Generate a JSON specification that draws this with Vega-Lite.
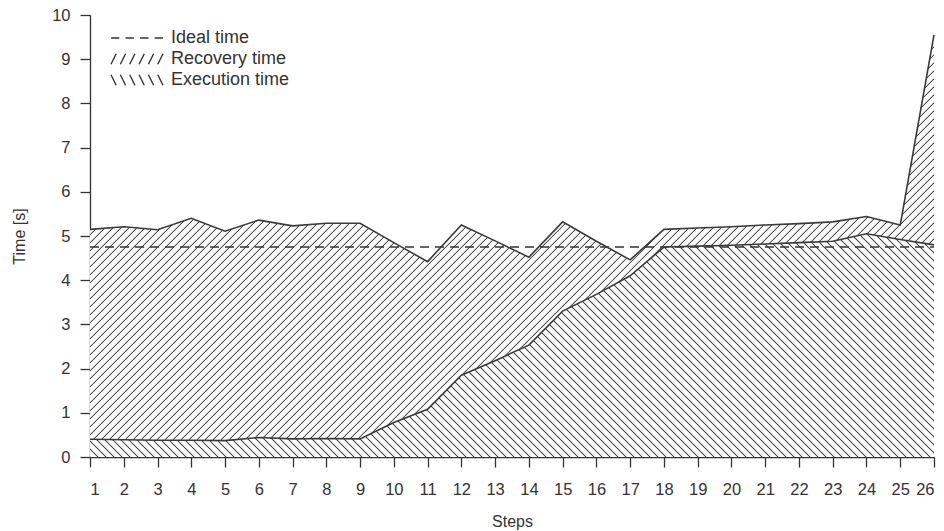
{
"$schema":"https://vega.github.io/schema/vega-lite/v6.json",
"width":844,"height":442,
"autosize":{"type":"none"},
"padding":{"left":90,"top":15,"right":10,"bottom":74},
"background":"white",
"config":{"view":{"stroke":null},"font":"Liberation Sans",
"axis":{"domainColor":"#333","tickColor":"#333","labelColor":"#333","titleColor":"#333","labelFontSize":16.5,"titleFontSize":16,"titleFontWeight":"normal","grid":false,"tickSize":10,"domainWidth":1.3,"tickWidth":1.3,"labelFont":"Liberation Sans","titleFont":"Liberation Sans"},
"axisX":{"labelPadding":14,"titlePadding":16},
"axisY":{"labelPadding":10,"titlePadding":24}},
"data":{"values":[
{"step":1,"exec":0.40,"total":5.15,"ideal":4.75},
{"step":2,"exec":0.39,"total":5.21,"ideal":4.75},
{"step":3,"exec":0.38,"total":5.14,"ideal":4.75},
{"step":4,"exec":0.38,"total":5.40,"ideal":4.75},
{"step":5,"exec":0.37,"total":5.11,"ideal":4.75},
{"step":6,"exec":0.44,"total":5.36,"ideal":4.75},
{"step":7,"exec":0.41,"total":5.23,"ideal":4.75},
{"step":8,"exec":0.42,"total":5.29,"ideal":4.75},
{"step":9,"exec":0.41,"total":5.29,"ideal":4.75},
{"step":10,"exec":0.78,"total":4.85,"ideal":4.75},
{"step":11,"exec":1.08,"total":4.42,"ideal":4.75},
{"step":12,"exec":1.85,"total":5.25,"ideal":4.75},
{"step":13,"exec":2.18,"total":4.89,"ideal":4.75},
{"step":14,"exec":2.53,"total":4.52,"ideal":4.75},
{"step":15,"exec":3.30,"total":5.32,"ideal":4.75},
{"step":16,"exec":3.68,"total":4.88,"ideal":4.75},
{"step":17,"exec":4.10,"total":4.46,"ideal":4.75},
{"step":18,"exec":4.75,"total":5.15,"ideal":4.75},
{"step":19,"exec":4.77,"total":5.18,"ideal":4.75},
{"step":20,"exec":4.79,"total":5.21,"ideal":4.75},
{"step":21,"exec":4.82,"total":5.25,"ideal":4.75},
{"step":22,"exec":4.85,"total":5.28,"ideal":4.75},
{"step":23,"exec":4.88,"total":5.32,"ideal":4.75},
{"step":24,"exec":5.05,"total":5.44,"ideal":4.75},
{"step":25,"exec":4.92,"total":5.25,"ideal":4.75},
{"step":26,"exec":4.80,"total":9.55,"ideal":4.75}
]},
"encoding":{"x":{"field":"step","type":"quantitative","title":"Steps","scale":{"domain":[1,26],"nice":false,"zero":false},"axis":{"values":[1,2,3,4,5,6,7,8,9,10,11,12,13,14,15,16,17,18,19,20,21,22,23,24,25,26]}}},
"layer":[
{"mark":{"type":"area","stroke":null,"fill":{"gradient":"linear","x1":0,"y1":0,"x2":1.23187,"y2":0.59223,"stops":[
{"offset":0,"color":"#444"},{"offset":0.001,"color":"#fff"},{"offset":0.00525,"color":"#fff"},{"offset":0.00625,"color":"#444"},{"offset":0.00725,"color":"#fff"},{"offset":0.0115,"color":"#fff"},{"offset":0.0125,"color":"#444"},{"offset":0.0135,"color":"#fff"},{"offset":0.01775,"color":"#fff"},{"offset":0.01875,"color":"#444"},{"offset":0.01975,"color":"#fff"},{"offset":0.024,"color":"#fff"},{"offset":0.025,"color":"#444"},{"offset":0.026,"color":"#fff"},{"offset":0.03025,"color":"#fff"},{"offset":0.03125,"color":"#444"},{"offset":0.03225,"color":"#fff"},{"offset":0.0365,"color":"#fff"},{"offset":0.0375,"color":"#444"},{"offset":0.0385,"color":"#fff"},{"offset":0.04275,"color":"#fff"},{"offset":0.04375,"color":"#444"},{"offset":0.04475,"color":"#fff"},{"offset":0.049,"color":"#fff"},
{"offset":0.05,"color":"#444"},{"offset":0.051,"color":"#fff"},{"offset":0.05525,"color":"#fff"},{"offset":0.05625,"color":"#444"},{"offset":0.05725,"color":"#fff"},{"offset":0.0615,"color":"#fff"},{"offset":0.0625,"color":"#444"},{"offset":0.0635,"color":"#fff"},{"offset":0.06775,"color":"#fff"},{"offset":0.06875,"color":"#444"},{"offset":0.06975,"color":"#fff"},{"offset":0.074,"color":"#fff"},{"offset":0.075,"color":"#444"},{"offset":0.076,"color":"#fff"},{"offset":0.08025,"color":"#fff"},{"offset":0.08125,"color":"#444"},{"offset":0.08225,"color":"#fff"},{"offset":0.0865,"color":"#fff"},{"offset":0.0875,"color":"#444"},{"offset":0.0885,"color":"#fff"},{"offset":0.09275,"color":"#fff"},{"offset":0.09375,"color":"#444"},{"offset":0.09475,"color":"#fff"},{"offset":0.099,"color":"#fff"},
{"offset":0.1,"color":"#444"},{"offset":0.101,"color":"#fff"},{"offset":0.10525,"color":"#fff"},{"offset":0.10625,"color":"#444"},{"offset":0.10725,"color":"#fff"},{"offset":0.1115,"color":"#fff"},{"offset":0.1125,"color":"#444"},{"offset":0.1135,"color":"#fff"},{"offset":0.11775,"color":"#fff"},{"offset":0.11875,"color":"#444"},{"offset":0.11975,"color":"#fff"},{"offset":0.124,"color":"#fff"},{"offset":0.125,"color":"#444"},{"offset":0.126,"color":"#fff"},{"offset":0.13025,"color":"#fff"},{"offset":0.13125,"color":"#444"},{"offset":0.13225,"color":"#fff"},{"offset":0.1365,"color":"#fff"},{"offset":0.1375,"color":"#444"},{"offset":0.1385,"color":"#fff"},{"offset":0.14275,"color":"#fff"},{"offset":0.14375,"color":"#444"},{"offset":0.14475,"color":"#fff"},{"offset":0.149,"color":"#fff"},
{"offset":0.15,"color":"#444"},{"offset":0.151,"color":"#fff"},{"offset":0.15525,"color":"#fff"},{"offset":0.15625,"color":"#444"},{"offset":0.15725,"color":"#fff"},{"offset":0.1615,"color":"#fff"},{"offset":0.1625,"color":"#444"},{"offset":0.1635,"color":"#fff"},{"offset":0.16775,"color":"#fff"},{"offset":0.16875,"color":"#444"},{"offset":0.16975,"color":"#fff"},{"offset":0.174,"color":"#fff"},{"offset":0.175,"color":"#444"},{"offset":0.176,"color":"#fff"},{"offset":0.18025,"color":"#fff"},{"offset":0.18125,"color":"#444"},{"offset":0.18225,"color":"#fff"},{"offset":0.1865,"color":"#fff"},{"offset":0.1875,"color":"#444"},{"offset":0.1885,"color":"#fff"},{"offset":0.19275,"color":"#fff"},{"offset":0.19375,"color":"#444"},{"offset":0.19475,"color":"#fff"},{"offset":0.199,"color":"#fff"},
{"offset":0.2,"color":"#444"},{"offset":0.201,"color":"#fff"},{"offset":0.20525,"color":"#fff"},{"offset":0.20625,"color":"#444"},{"offset":0.20725,"color":"#fff"},{"offset":0.2115,"color":"#fff"},{"offset":0.2125,"color":"#444"},{"offset":0.2135,"color":"#fff"},{"offset":0.21775,"color":"#fff"},{"offset":0.21875,"color":"#444"},{"offset":0.21975,"color":"#fff"},{"offset":0.224,"color":"#fff"},{"offset":0.225,"color":"#444"},{"offset":0.226,"color":"#fff"},{"offset":0.23025,"color":"#fff"},{"offset":0.23125,"color":"#444"},{"offset":0.23225,"color":"#fff"},{"offset":0.2365,"color":"#fff"},{"offset":0.2375,"color":"#444"},{"offset":0.2385,"color":"#fff"},{"offset":0.24275,"color":"#fff"},{"offset":0.24375,"color":"#444"},{"offset":0.24475,"color":"#fff"},{"offset":0.249,"color":"#fff"},
{"offset":0.25,"color":"#444"},{"offset":0.251,"color":"#fff"},{"offset":0.25525,"color":"#fff"},{"offset":0.25625,"color":"#444"},{"offset":0.25725,"color":"#fff"},{"offset":0.2615,"color":"#fff"},{"offset":0.2625,"color":"#444"},{"offset":0.2635,"color":"#fff"},{"offset":0.26775,"color":"#fff"},{"offset":0.26875,"color":"#444"},{"offset":0.26975,"color":"#fff"},{"offset":0.274,"color":"#fff"},{"offset":0.275,"color":"#444"},{"offset":0.276,"color":"#fff"},{"offset":0.28025,"color":"#fff"},{"offset":0.28125,"color":"#444"},{"offset":0.28225,"color":"#fff"},{"offset":0.2865,"color":"#fff"},{"offset":0.2875,"color":"#444"},{"offset":0.2885,"color":"#fff"},{"offset":0.29275,"color":"#fff"},{"offset":0.29375,"color":"#444"},{"offset":0.29475,"color":"#fff"},{"offset":0.299,"color":"#fff"},
{"offset":0.3,"color":"#444"},{"offset":0.301,"color":"#fff"},{"offset":0.30525,"color":"#fff"},{"offset":0.30625,"color":"#444"},{"offset":0.30725,"color":"#fff"},{"offset":0.3115,"color":"#fff"},{"offset":0.3125,"color":"#444"},{"offset":0.3135,"color":"#fff"},{"offset":0.31775,"color":"#fff"},{"offset":0.31875,"color":"#444"},{"offset":0.31975,"color":"#fff"},{"offset":0.324,"color":"#fff"},{"offset":0.325,"color":"#444"},{"offset":0.326,"color":"#fff"},{"offset":0.33025,"color":"#fff"},{"offset":0.33125,"color":"#444"},{"offset":0.33225,"color":"#fff"},{"offset":0.3365,"color":"#fff"},{"offset":0.3375,"color":"#444"},{"offset":0.3385,"color":"#fff"},{"offset":0.34275,"color":"#fff"},{"offset":0.34375,"color":"#444"},{"offset":0.34475,"color":"#fff"},{"offset":0.349,"color":"#fff"},
{"offset":0.35,"color":"#444"},{"offset":0.351,"color":"#fff"},{"offset":0.35525,"color":"#fff"},{"offset":0.35625,"color":"#444"},{"offset":0.35725,"color":"#fff"},{"offset":0.3615,"color":"#fff"},{"offset":0.3625,"color":"#444"},{"offset":0.3635,"color":"#fff"},{"offset":0.36775,"color":"#fff"},{"offset":0.36875,"color":"#444"},{"offset":0.36975,"color":"#fff"},{"offset":0.374,"color":"#fff"},{"offset":0.375,"color":"#444"},{"offset":0.376,"color":"#fff"},{"offset":0.38025,"color":"#fff"},{"offset":0.38125,"color":"#444"},{"offset":0.38225,"color":"#fff"},{"offset":0.3865,"color":"#fff"},{"offset":0.3875,"color":"#444"},{"offset":0.3885,"color":"#fff"},{"offset":0.39275,"color":"#fff"},{"offset":0.39375,"color":"#444"},{"offset":0.39475,"color":"#fff"},{"offset":0.399,"color":"#fff"},
{"offset":0.4,"color":"#444"},{"offset":0.401,"color":"#fff"},{"offset":0.40525,"color":"#fff"},{"offset":0.40625,"color":"#444"},{"offset":0.40725,"color":"#fff"},{"offset":0.4115,"color":"#fff"},{"offset":0.4125,"color":"#444"},{"offset":0.4135,"color":"#fff"},{"offset":0.41775,"color":"#fff"},{"offset":0.41875,"color":"#444"},{"offset":0.41975,"color":"#fff"},{"offset":0.424,"color":"#fff"},{"offset":0.425,"color":"#444"},{"offset":0.426,"color":"#fff"},{"offset":0.43025,"color":"#fff"},{"offset":0.43125,"color":"#444"},{"offset":0.43225,"color":"#fff"},{"offset":0.4365,"color":"#fff"},{"offset":0.4375,"color":"#444"},{"offset":0.4385,"color":"#fff"},{"offset":0.44275,"color":"#fff"},{"offset":0.44375,"color":"#444"},{"offset":0.44475,"color":"#fff"},{"offset":0.449,"color":"#fff"},
{"offset":0.45,"color":"#444"},{"offset":0.451,"color":"#fff"},{"offset":0.45525,"color":"#fff"},{"offset":0.45625,"color":"#444"},{"offset":0.45725,"color":"#fff"},{"offset":0.4615,"color":"#fff"},{"offset":0.4625,"color":"#444"},{"offset":0.4635,"color":"#fff"},{"offset":0.46775,"color":"#fff"},{"offset":0.46875,"color":"#444"},{"offset":0.46975,"color":"#fff"},{"offset":0.474,"color":"#fff"},{"offset":0.475,"color":"#444"},{"offset":0.476,"color":"#fff"},{"offset":0.48025,"color":"#fff"},{"offset":0.48125,"color":"#444"},{"offset":0.48225,"color":"#fff"},{"offset":0.4865,"color":"#fff"},{"offset":0.4875,"color":"#444"},{"offset":0.4885,"color":"#fff"},{"offset":0.49275,"color":"#fff"},{"offset":0.49375,"color":"#444"},{"offset":0.49475,"color":"#fff"},{"offset":0.499,"color":"#fff"},
{"offset":0.5,"color":"#444"},{"offset":0.501,"color":"#fff"},{"offset":0.50525,"color":"#fff"},{"offset":0.50625,"color":"#444"},{"offset":0.50725,"color":"#fff"},{"offset":0.5115,"color":"#fff"},{"offset":0.5125,"color":"#444"},{"offset":0.5135,"color":"#fff"},{"offset":0.51775,"color":"#fff"},{"offset":0.51875,"color":"#444"},{"offset":0.51975,"color":"#fff"},{"offset":0.524,"color":"#fff"},{"offset":0.525,"color":"#444"},{"offset":0.526,"color":"#fff"},{"offset":0.53025,"color":"#fff"},{"offset":0.53125,"color":"#444"},{"offset":0.53225,"color":"#fff"},{"offset":0.5365,"color":"#fff"},{"offset":0.5375,"color":"#444"},{"offset":0.5385,"color":"#fff"},{"offset":0.54275,"color":"#fff"},{"offset":0.54375,"color":"#444"},{"offset":0.54475,"color":"#fff"},{"offset":0.549,"color":"#fff"},
{"offset":0.55,"color":"#444"},{"offset":0.551,"color":"#fff"},{"offset":0.55525,"color":"#fff"},{"offset":0.55625,"color":"#444"},{"offset":0.55725,"color":"#fff"},{"offset":0.5615,"color":"#fff"},{"offset":0.5625,"color":"#444"},{"offset":0.5635,"color":"#fff"},{"offset":0.56775,"color":"#fff"},{"offset":0.56875,"color":"#444"},{"offset":0.56975,"color":"#fff"},{"offset":0.574,"color":"#fff"},{"offset":0.575,"color":"#444"},{"offset":0.576,"color":"#fff"},{"offset":0.58025,"color":"#fff"},{"offset":0.58125,"color":"#444"},{"offset":0.58225,"color":"#fff"},{"offset":0.5865,"color":"#fff"},{"offset":0.5875,"color":"#444"},{"offset":0.5885,"color":"#fff"},{"offset":0.59275,"color":"#fff"},{"offset":0.59375,"color":"#444"},{"offset":0.59475,"color":"#fff"},{"offset":0.599,"color":"#fff"},
{"offset":0.6,"color":"#444"},{"offset":0.601,"color":"#fff"},{"offset":0.60525,"color":"#fff"},{"offset":0.60625,"color":"#444"},{"offset":0.60725,"color":"#fff"},{"offset":0.6115,"color":"#fff"},{"offset":0.6125,"color":"#444"},{"offset":0.6135,"color":"#fff"},{"offset":0.61775,"color":"#fff"},{"offset":0.61875,"color":"#444"},{"offset":0.61975,"color":"#fff"},{"offset":0.624,"color":"#fff"},{"offset":0.625,"color":"#444"},{"offset":0.626,"color":"#fff"},{"offset":0.63025,"color":"#fff"},{"offset":0.63125,"color":"#444"},{"offset":0.63225,"color":"#fff"},{"offset":0.6365,"color":"#fff"},{"offset":0.6375,"color":"#444"},{"offset":0.6385,"color":"#fff"},{"offset":0.64275,"color":"#fff"},{"offset":0.64375,"color":"#444"},{"offset":0.64475,"color":"#fff"},{"offset":0.649,"color":"#fff"},
{"offset":0.65,"color":"#444"},{"offset":0.651,"color":"#fff"},{"offset":0.65525,"color":"#fff"},{"offset":0.65625,"color":"#444"},{"offset":0.65725,"color":"#fff"},{"offset":0.6615,"color":"#fff"},{"offset":0.6625,"color":"#444"},{"offset":0.6635,"color":"#fff"},{"offset":0.66775,"color":"#fff"},{"offset":0.66875,"color":"#444"},{"offset":0.66975,"color":"#fff"},{"offset":0.674,"color":"#fff"},{"offset":0.675,"color":"#444"},{"offset":0.676,"color":"#fff"},{"offset":0.68025,"color":"#fff"},{"offset":0.68125,"color":"#444"},{"offset":0.68225,"color":"#fff"},{"offset":0.6865,"color":"#fff"},{"offset":0.6875,"color":"#444"},{"offset":0.6885,"color":"#fff"},{"offset":0.69275,"color":"#fff"},{"offset":0.69375,"color":"#444"},{"offset":0.69475,"color":"#fff"},{"offset":0.699,"color":"#fff"},
{"offset":0.7,"color":"#444"},{"offset":0.701,"color":"#fff"},{"offset":0.70525,"color":"#fff"},{"offset":0.70625,"color":"#444"},{"offset":0.70725,"color":"#fff"},{"offset":0.7115,"color":"#fff"},{"offset":0.7125,"color":"#444"},{"offset":0.7135,"color":"#fff"},{"offset":0.71775,"color":"#fff"},{"offset":0.71875,"color":"#444"},{"offset":0.71975,"color":"#fff"},{"offset":0.724,"color":"#fff"},{"offset":0.725,"color":"#444"},{"offset":0.726,"color":"#fff"},{"offset":0.73025,"color":"#fff"},{"offset":0.73125,"color":"#444"},{"offset":0.73225,"color":"#fff"},{"offset":0.7365,"color":"#fff"},{"offset":0.7375,"color":"#444"},{"offset":0.7385,"color":"#fff"},{"offset":0.74275,"color":"#fff"},{"offset":0.74375,"color":"#444"},{"offset":0.74475,"color":"#fff"},{"offset":0.749,"color":"#fff"},
{"offset":0.75,"color":"#444"},{"offset":0.751,"color":"#fff"},{"offset":0.75525,"color":"#fff"},{"offset":0.75625,"color":"#444"},{"offset":0.75725,"color":"#fff"},{"offset":0.7615,"color":"#fff"},{"offset":0.7625,"color":"#444"},{"offset":0.7635,"color":"#fff"},{"offset":0.76775,"color":"#fff"},{"offset":0.76875,"color":"#444"},{"offset":0.76975,"color":"#fff"},{"offset":0.774,"color":"#fff"},{"offset":0.775,"color":"#444"},{"offset":0.776,"color":"#fff"},{"offset":0.78025,"color":"#fff"},{"offset":0.78125,"color":"#444"},{"offset":0.78225,"color":"#fff"},{"offset":0.7865,"color":"#fff"},{"offset":0.7875,"color":"#444"},{"offset":0.7885,"color":"#fff"},{"offset":0.79275,"color":"#fff"},{"offset":0.79375,"color":"#444"},{"offset":0.79475,"color":"#fff"},{"offset":0.799,"color":"#fff"},
{"offset":0.8,"color":"#444"},{"offset":0.801,"color":"#fff"},{"offset":0.80525,"color":"#fff"},{"offset":0.80625,"color":"#444"},{"offset":0.80725,"color":"#fff"},{"offset":0.8115,"color":"#fff"},{"offset":0.8125,"color":"#444"},{"offset":0.8135,"color":"#fff"},{"offset":0.81775,"color":"#fff"},{"offset":0.81875,"color":"#444"},{"offset":0.81975,"color":"#fff"},{"offset":0.824,"color":"#fff"},{"offset":0.825,"color":"#444"},{"offset":0.826,"color":"#fff"},{"offset":0.83025,"color":"#fff"},{"offset":0.83125,"color":"#444"},{"offset":0.83225,"color":"#fff"},{"offset":0.8365,"color":"#fff"},{"offset":0.8375,"color":"#444"},{"offset":0.8385,"color":"#fff"},{"offset":0.84275,"color":"#fff"},{"offset":0.84375,"color":"#444"},{"offset":0.84475,"color":"#fff"},{"offset":0.849,"color":"#fff"},
{"offset":0.85,"color":"#444"},{"offset":0.851,"color":"#fff"},{"offset":0.85525,"color":"#fff"},{"offset":0.85625,"color":"#444"},{"offset":0.85725,"color":"#fff"},{"offset":0.8615,"color":"#fff"},{"offset":0.8625,"color":"#444"},{"offset":0.8635,"color":"#fff"},{"offset":0.86775,"color":"#fff"},{"offset":0.86875,"color":"#444"},{"offset":0.86975,"color":"#fff"},{"offset":0.874,"color":"#fff"},{"offset":0.875,"color":"#444"},{"offset":0.876,"color":"#fff"},{"offset":0.88025,"color":"#fff"},{"offset":0.88125,"color":"#444"},{"offset":0.88225,"color":"#fff"},{"offset":0.8865,"color":"#fff"},{"offset":0.8875,"color":"#444"},{"offset":0.8885,"color":"#fff"},{"offset":0.89275,"color":"#fff"},{"offset":0.89375,"color":"#444"},{"offset":0.89475,"color":"#fff"},{"offset":0.899,"color":"#fff"},
{"offset":0.9,"color":"#444"},{"offset":0.901,"color":"#fff"},{"offset":0.90525,"color":"#fff"},{"offset":0.90625,"color":"#444"},{"offset":0.90725,"color":"#fff"},{"offset":0.9115,"color":"#fff"},{"offset":0.9125,"color":"#444"},{"offset":0.9135,"color":"#fff"},{"offset":0.91775,"color":"#fff"},{"offset":0.91875,"color":"#444"},{"offset":0.91975,"color":"#fff"},{"offset":0.924,"color":"#fff"},{"offset":0.925,"color":"#444"},{"offset":0.926,"color":"#fff"},{"offset":0.93025,"color":"#fff"},{"offset":0.93125,"color":"#444"},{"offset":0.93225,"color":"#fff"},{"offset":0.9365,"color":"#fff"},{"offset":0.9375,"color":"#444"},{"offset":0.9385,"color":"#fff"},{"offset":0.94275,"color":"#fff"},{"offset":0.94375,"color":"#444"},{"offset":0.94475,"color":"#fff"},{"offset":0.949,"color":"#fff"},
{"offset":0.95,"color":"#444"},{"offset":0.951,"color":"#fff"},{"offset":0.95525,"color":"#fff"},{"offset":0.95625,"color":"#444"},{"offset":0.95725,"color":"#fff"},{"offset":0.9615,"color":"#fff"},{"offset":0.9625,"color":"#444"},{"offset":0.9635,"color":"#fff"},{"offset":0.96775,"color":"#fff"},{"offset":0.96875,"color":"#444"},{"offset":0.96975,"color":"#fff"},{"offset":0.974,"color":"#fff"},{"offset":0.975,"color":"#444"},{"offset":0.976,"color":"#fff"},{"offset":0.98025,"color":"#fff"},{"offset":0.98125,"color":"#444"},{"offset":0.98225,"color":"#fff"},{"offset":0.9865,"color":"#fff"},{"offset":0.9875,"color":"#444"},{"offset":0.9885,"color":"#fff"},{"offset":0.99275,"color":"#fff"},{"offset":0.99375,"color":"#444"},{"offset":0.99475,"color":"#fff"},{"offset":0.999,"color":"#fff"}
]}},
"encoding":{"y":{"field":"total","type":"quantitative","title":"Time [s]","scale":{"domain":[0,10],"nice":false},"axis":{"values":[0,1,2,3,4,5,6,7,8,9,10]}},"y2":{"field":"exec"}}},
{"mark":{"type":"area","stroke":null,"fill":{"gradient":"linear","x1":0,"y1":1,"x2":1.41745,"y2":0.62513,"stops":[
{"offset":0,"color":"#444"},{"offset":0.001,"color":"#fff"},{"offset":0.00525,"color":"#fff"},{"offset":0.00625,"color":"#444"},{"offset":0.00725,"color":"#fff"},{"offset":0.0115,"color":"#fff"},{"offset":0.0125,"color":"#444"},{"offset":0.0135,"color":"#fff"},{"offset":0.01775,"color":"#fff"},{"offset":0.01875,"color":"#444"},{"offset":0.01975,"color":"#fff"},{"offset":0.024,"color":"#fff"},{"offset":0.025,"color":"#444"},{"offset":0.026,"color":"#fff"},{"offset":0.03025,"color":"#fff"},{"offset":0.03125,"color":"#444"},{"offset":0.03225,"color":"#fff"},{"offset":0.0365,"color":"#fff"},{"offset":0.0375,"color":"#444"},{"offset":0.0385,"color":"#fff"},{"offset":0.04275,"color":"#fff"},{"offset":0.04375,"color":"#444"},{"offset":0.04475,"color":"#fff"},{"offset":0.049,"color":"#fff"},
{"offset":0.05,"color":"#444"},{"offset":0.051,"color":"#fff"},{"offset":0.05525,"color":"#fff"},{"offset":0.05625,"color":"#444"},{"offset":0.05725,"color":"#fff"},{"offset":0.0615,"color":"#fff"},{"offset":0.0625,"color":"#444"},{"offset":0.0635,"color":"#fff"},{"offset":0.06775,"color":"#fff"},{"offset":0.06875,"color":"#444"},{"offset":0.06975,"color":"#fff"},{"offset":0.074,"color":"#fff"},{"offset":0.075,"color":"#444"},{"offset":0.076,"color":"#fff"},{"offset":0.08025,"color":"#fff"},{"offset":0.08125,"color":"#444"},{"offset":0.08225,"color":"#fff"},{"offset":0.0865,"color":"#fff"},{"offset":0.0875,"color":"#444"},{"offset":0.0885,"color":"#fff"},{"offset":0.09275,"color":"#fff"},{"offset":0.09375,"color":"#444"},{"offset":0.09475,"color":"#fff"},{"offset":0.099,"color":"#fff"},
{"offset":0.1,"color":"#444"},{"offset":0.101,"color":"#fff"},{"offset":0.10525,"color":"#fff"},{"offset":0.10625,"color":"#444"},{"offset":0.10725,"color":"#fff"},{"offset":0.1115,"color":"#fff"},{"offset":0.1125,"color":"#444"},{"offset":0.1135,"color":"#fff"},{"offset":0.11775,"color":"#fff"},{"offset":0.11875,"color":"#444"},{"offset":0.11975,"color":"#fff"},{"offset":0.124,"color":"#fff"},{"offset":0.125,"color":"#444"},{"offset":0.126,"color":"#fff"},{"offset":0.13025,"color":"#fff"},{"offset":0.13125,"color":"#444"},{"offset":0.13225,"color":"#fff"},{"offset":0.1365,"color":"#fff"},{"offset":0.1375,"color":"#444"},{"offset":0.1385,"color":"#fff"},{"offset":0.14275,"color":"#fff"},{"offset":0.14375,"color":"#444"},{"offset":0.14475,"color":"#fff"},{"offset":0.149,"color":"#fff"},
{"offset":0.15,"color":"#444"},{"offset":0.151,"color":"#fff"},{"offset":0.15525,"color":"#fff"},{"offset":0.15625,"color":"#444"},{"offset":0.15725,"color":"#fff"},{"offset":0.1615,"color":"#fff"},{"offset":0.1625,"color":"#444"},{"offset":0.1635,"color":"#fff"},{"offset":0.16775,"color":"#fff"},{"offset":0.16875,"color":"#444"},{"offset":0.16975,"color":"#fff"},{"offset":0.174,"color":"#fff"},{"offset":0.175,"color":"#444"},{"offset":0.176,"color":"#fff"},{"offset":0.18025,"color":"#fff"},{"offset":0.18125,"color":"#444"},{"offset":0.18225,"color":"#fff"},{"offset":0.1865,"color":"#fff"},{"offset":0.1875,"color":"#444"},{"offset":0.1885,"color":"#fff"},{"offset":0.19275,"color":"#fff"},{"offset":0.19375,"color":"#444"},{"offset":0.19475,"color":"#fff"},{"offset":0.199,"color":"#fff"},
{"offset":0.2,"color":"#444"},{"offset":0.201,"color":"#fff"},{"offset":0.20525,"color":"#fff"},{"offset":0.20625,"color":"#444"},{"offset":0.20725,"color":"#fff"},{"offset":0.2115,"color":"#fff"},{"offset":0.2125,"color":"#444"},{"offset":0.2135,"color":"#fff"},{"offset":0.21775,"color":"#fff"},{"offset":0.21875,"color":"#444"},{"offset":0.21975,"color":"#fff"},{"offset":0.224,"color":"#fff"},{"offset":0.225,"color":"#444"},{"offset":0.226,"color":"#fff"},{"offset":0.23025,"color":"#fff"},{"offset":0.23125,"color":"#444"},{"offset":0.23225,"color":"#fff"},{"offset":0.2365,"color":"#fff"},{"offset":0.2375,"color":"#444"},{"offset":0.2385,"color":"#fff"},{"offset":0.24275,"color":"#fff"},{"offset":0.24375,"color":"#444"},{"offset":0.24475,"color":"#fff"},{"offset":0.249,"color":"#fff"},
{"offset":0.25,"color":"#444"},{"offset":0.251,"color":"#fff"},{"offset":0.25525,"color":"#fff"},{"offset":0.25625,"color":"#444"},{"offset":0.25725,"color":"#fff"},{"offset":0.2615,"color":"#fff"},{"offset":0.2625,"color":"#444"},{"offset":0.2635,"color":"#fff"},{"offset":0.26775,"color":"#fff"},{"offset":0.26875,"color":"#444"},{"offset":0.26975,"color":"#fff"},{"offset":0.274,"color":"#fff"},{"offset":0.275,"color":"#444"},{"offset":0.276,"color":"#fff"},{"offset":0.28025,"color":"#fff"},{"offset":0.28125,"color":"#444"},{"offset":0.28225,"color":"#fff"},{"offset":0.2865,"color":"#fff"},{"offset":0.2875,"color":"#444"},{"offset":0.2885,"color":"#fff"},{"offset":0.29275,"color":"#fff"},{"offset":0.29375,"color":"#444"},{"offset":0.29475,"color":"#fff"},{"offset":0.299,"color":"#fff"},
{"offset":0.3,"color":"#444"},{"offset":0.301,"color":"#fff"},{"offset":0.30525,"color":"#fff"},{"offset":0.30625,"color":"#444"},{"offset":0.30725,"color":"#fff"},{"offset":0.3115,"color":"#fff"},{"offset":0.3125,"color":"#444"},{"offset":0.3135,"color":"#fff"},{"offset":0.31775,"color":"#fff"},{"offset":0.31875,"color":"#444"},{"offset":0.31975,"color":"#fff"},{"offset":0.324,"color":"#fff"},{"offset":0.325,"color":"#444"},{"offset":0.326,"color":"#fff"},{"offset":0.33025,"color":"#fff"},{"offset":0.33125,"color":"#444"},{"offset":0.33225,"color":"#fff"},{"offset":0.3365,"color":"#fff"},{"offset":0.3375,"color":"#444"},{"offset":0.3385,"color":"#fff"},{"offset":0.34275,"color":"#fff"},{"offset":0.34375,"color":"#444"},{"offset":0.34475,"color":"#fff"},{"offset":0.349,"color":"#fff"},
{"offset":0.35,"color":"#444"},{"offset":0.351,"color":"#fff"},{"offset":0.35525,"color":"#fff"},{"offset":0.35625,"color":"#444"},{"offset":0.35725,"color":"#fff"},{"offset":0.3615,"color":"#fff"},{"offset":0.3625,"color":"#444"},{"offset":0.3635,"color":"#fff"},{"offset":0.36775,"color":"#fff"},{"offset":0.36875,"color":"#444"},{"offset":0.36975,"color":"#fff"},{"offset":0.374,"color":"#fff"},{"offset":0.375,"color":"#444"},{"offset":0.376,"color":"#fff"},{"offset":0.38025,"color":"#fff"},{"offset":0.38125,"color":"#444"},{"offset":0.38225,"color":"#fff"},{"offset":0.3865,"color":"#fff"},{"offset":0.3875,"color":"#444"},{"offset":0.3885,"color":"#fff"},{"offset":0.39275,"color":"#fff"},{"offset":0.39375,"color":"#444"},{"offset":0.39475,"color":"#fff"},{"offset":0.399,"color":"#fff"},
{"offset":0.4,"color":"#444"},{"offset":0.401,"color":"#fff"},{"offset":0.40525,"color":"#fff"},{"offset":0.40625,"color":"#444"},{"offset":0.40725,"color":"#fff"},{"offset":0.4115,"color":"#fff"},{"offset":0.4125,"color":"#444"},{"offset":0.4135,"color":"#fff"},{"offset":0.41775,"color":"#fff"},{"offset":0.41875,"color":"#444"},{"offset":0.41975,"color":"#fff"},{"offset":0.424,"color":"#fff"},{"offset":0.425,"color":"#444"},{"offset":0.426,"color":"#fff"},{"offset":0.43025,"color":"#fff"},{"offset":0.43125,"color":"#444"},{"offset":0.43225,"color":"#fff"},{"offset":0.4365,"color":"#fff"},{"offset":0.4375,"color":"#444"},{"offset":0.4385,"color":"#fff"},{"offset":0.44275,"color":"#fff"},{"offset":0.44375,"color":"#444"},{"offset":0.44475,"color":"#fff"},{"offset":0.449,"color":"#fff"},
{"offset":0.45,"color":"#444"},{"offset":0.451,"color":"#fff"},{"offset":0.45525,"color":"#fff"},{"offset":0.45625,"color":"#444"},{"offset":0.45725,"color":"#fff"},{"offset":0.4615,"color":"#fff"},{"offset":0.4625,"color":"#444"},{"offset":0.4635,"color":"#fff"},{"offset":0.46775,"color":"#fff"},{"offset":0.46875,"color":"#444"},{"offset":0.46975,"color":"#fff"},{"offset":0.474,"color":"#fff"},{"offset":0.475,"color":"#444"},{"offset":0.476,"color":"#fff"},{"offset":0.48025,"color":"#fff"},{"offset":0.48125,"color":"#444"},{"offset":0.48225,"color":"#fff"},{"offset":0.4865,"color":"#fff"},{"offset":0.4875,"color":"#444"},{"offset":0.4885,"color":"#fff"},{"offset":0.49275,"color":"#fff"},{"offset":0.49375,"color":"#444"},{"offset":0.49475,"color":"#fff"},{"offset":0.499,"color":"#fff"},
{"offset":0.5,"color":"#444"},{"offset":0.501,"color":"#fff"},{"offset":0.50525,"color":"#fff"},{"offset":0.50625,"color":"#444"},{"offset":0.50725,"color":"#fff"},{"offset":0.5115,"color":"#fff"},{"offset":0.5125,"color":"#444"},{"offset":0.5135,"color":"#fff"},{"offset":0.51775,"color":"#fff"},{"offset":0.51875,"color":"#444"},{"offset":0.51975,"color":"#fff"},{"offset":0.524,"color":"#fff"},{"offset":0.525,"color":"#444"},{"offset":0.526,"color":"#fff"},{"offset":0.53025,"color":"#fff"},{"offset":0.53125,"color":"#444"},{"offset":0.53225,"color":"#fff"},{"offset":0.5365,"color":"#fff"},{"offset":0.5375,"color":"#444"},{"offset":0.5385,"color":"#fff"},{"offset":0.54275,"color":"#fff"},{"offset":0.54375,"color":"#444"},{"offset":0.54475,"color":"#fff"},{"offset":0.549,"color":"#fff"},
{"offset":0.55,"color":"#444"},{"offset":0.551,"color":"#fff"},{"offset":0.55525,"color":"#fff"},{"offset":0.55625,"color":"#444"},{"offset":0.55725,"color":"#fff"},{"offset":0.5615,"color":"#fff"},{"offset":0.5625,"color":"#444"},{"offset":0.5635,"color":"#fff"},{"offset":0.56775,"color":"#fff"},{"offset":0.56875,"color":"#444"},{"offset":0.56975,"color":"#fff"},{"offset":0.574,"color":"#fff"},{"offset":0.575,"color":"#444"},{"offset":0.576,"color":"#fff"},{"offset":0.58025,"color":"#fff"},{"offset":0.58125,"color":"#444"},{"offset":0.58225,"color":"#fff"},{"offset":0.5865,"color":"#fff"},{"offset":0.5875,"color":"#444"},{"offset":0.5885,"color":"#fff"},{"offset":0.59275,"color":"#fff"},{"offset":0.59375,"color":"#444"},{"offset":0.59475,"color":"#fff"},{"offset":0.599,"color":"#fff"},
{"offset":0.6,"color":"#444"},{"offset":0.601,"color":"#fff"},{"offset":0.60525,"color":"#fff"},{"offset":0.60625,"color":"#444"},{"offset":0.60725,"color":"#fff"},{"offset":0.6115,"color":"#fff"},{"offset":0.6125,"color":"#444"},{"offset":0.6135,"color":"#fff"},{"offset":0.61775,"color":"#fff"},{"offset":0.61875,"color":"#444"},{"offset":0.61975,"color":"#fff"},{"offset":0.624,"color":"#fff"},{"offset":0.625,"color":"#444"},{"offset":0.626,"color":"#fff"},{"offset":0.63025,"color":"#fff"},{"offset":0.63125,"color":"#444"},{"offset":0.63225,"color":"#fff"},{"offset":0.6365,"color":"#fff"},{"offset":0.6375,"color":"#444"},{"offset":0.6385,"color":"#fff"},{"offset":0.64275,"color":"#fff"},{"offset":0.64375,"color":"#444"},{"offset":0.64475,"color":"#fff"},{"offset":0.649,"color":"#fff"},
{"offset":0.65,"color":"#444"},{"offset":0.651,"color":"#fff"},{"offset":0.65525,"color":"#fff"},{"offset":0.65625,"color":"#444"},{"offset":0.65725,"color":"#fff"},{"offset":0.6615,"color":"#fff"},{"offset":0.6625,"color":"#444"},{"offset":0.6635,"color":"#fff"},{"offset":0.66775,"color":"#fff"},{"offset":0.66875,"color":"#444"},{"offset":0.66975,"color":"#fff"},{"offset":0.674,"color":"#fff"},{"offset":0.675,"color":"#444"},{"offset":0.676,"color":"#fff"},{"offset":0.68025,"color":"#fff"},{"offset":0.68125,"color":"#444"},{"offset":0.68225,"color":"#fff"},{"offset":0.6865,"color":"#fff"},{"offset":0.6875,"color":"#444"},{"offset":0.6885,"color":"#fff"},{"offset":0.69275,"color":"#fff"},{"offset":0.69375,"color":"#444"},{"offset":0.69475,"color":"#fff"},{"offset":0.699,"color":"#fff"},
{"offset":0.7,"color":"#444"},{"offset":0.701,"color":"#fff"},{"offset":0.70525,"color":"#fff"},{"offset":0.70625,"color":"#444"},{"offset":0.70725,"color":"#fff"},{"offset":0.7115,"color":"#fff"},{"offset":0.7125,"color":"#444"},{"offset":0.7135,"color":"#fff"},{"offset":0.71775,"color":"#fff"},{"offset":0.71875,"color":"#444"},{"offset":0.71975,"color":"#fff"},{"offset":0.724,"color":"#fff"},{"offset":0.725,"color":"#444"},{"offset":0.726,"color":"#fff"},{"offset":0.73025,"color":"#fff"},{"offset":0.73125,"color":"#444"},{"offset":0.73225,"color":"#fff"},{"offset":0.7365,"color":"#fff"},{"offset":0.7375,"color":"#444"},{"offset":0.7385,"color":"#fff"},{"offset":0.74275,"color":"#fff"},{"offset":0.74375,"color":"#444"},{"offset":0.74475,"color":"#fff"},{"offset":0.749,"color":"#fff"},
{"offset":0.75,"color":"#444"},{"offset":0.751,"color":"#fff"},{"offset":0.75525,"color":"#fff"},{"offset":0.75625,"color":"#444"},{"offset":0.75725,"color":"#fff"},{"offset":0.7615,"color":"#fff"},{"offset":0.7625,"color":"#444"},{"offset":0.7635,"color":"#fff"},{"offset":0.76775,"color":"#fff"},{"offset":0.76875,"color":"#444"},{"offset":0.76975,"color":"#fff"},{"offset":0.774,"color":"#fff"},{"offset":0.775,"color":"#444"},{"offset":0.776,"color":"#fff"},{"offset":0.78025,"color":"#fff"},{"offset":0.78125,"color":"#444"},{"offset":0.78225,"color":"#fff"},{"offset":0.7865,"color":"#fff"},{"offset":0.7875,"color":"#444"},{"offset":0.7885,"color":"#fff"},{"offset":0.79275,"color":"#fff"},{"offset":0.79375,"color":"#444"},{"offset":0.79475,"color":"#fff"},{"offset":0.799,"color":"#fff"},
{"offset":0.8,"color":"#444"},{"offset":0.801,"color":"#fff"},{"offset":0.80525,"color":"#fff"},{"offset":0.80625,"color":"#444"},{"offset":0.80725,"color":"#fff"},{"offset":0.8115,"color":"#fff"},{"offset":0.8125,"color":"#444"},{"offset":0.8135,"color":"#fff"},{"offset":0.81775,"color":"#fff"},{"offset":0.81875,"color":"#444"},{"offset":0.81975,"color":"#fff"},{"offset":0.824,"color":"#fff"},{"offset":0.825,"color":"#444"},{"offset":0.826,"color":"#fff"},{"offset":0.83025,"color":"#fff"},{"offset":0.83125,"color":"#444"},{"offset":0.83225,"color":"#fff"},{"offset":0.8365,"color":"#fff"},{"offset":0.8375,"color":"#444"},{"offset":0.8385,"color":"#fff"},{"offset":0.84275,"color":"#fff"},{"offset":0.84375,"color":"#444"},{"offset":0.84475,"color":"#fff"},{"offset":0.849,"color":"#fff"}
]}},
"encoding":{"y":{"field":"exec","type":"quantitative","title":"Time [s]","scale":{"domain":[0,10],"nice":false}},"y2":{"datum":0}}},
{"mark":{"type":"line","color":"#333","strokeWidth":1.5,"strokeDash":[9,6]},"encoding":{"y":{"field":"ideal","type":"quantitative","title":"Time [s]","scale":{"domain":[0,10],"nice":false}}}},
{"mark":{"type":"line","color":"#3a3a3a","strokeWidth":1.6},"encoding":{"y":{"field":"total","type":"quantitative","title":"Time [s]","scale":{"domain":[0,10],"nice":false}}}},
{"mark":{"type":"line","color":"#3a3a3a","strokeWidth":1.6},"encoding":{"y":{"field":"exec","type":"quantitative","title":"Time [s]","scale":{"domain":[0,10],"nice":false}}}},
{"data":{"values":[{"series":"Ideal time"},{"series":"Recovery time"},{"series":"Execution time"}]},
"mark":{"type":"point","opacity":0,"filled":false,"color":"#333"},
"encoding":{"x":{"value":0},"y":{"value":0},
"shape":{"field":"series","type":"nominal","scale":{"domain":["Ideal time","Recovery time","Execution time"],"range":["M-1,0L-0.68,0M-0.44,0L-0.12,0M0.12,0L0.44,0M0.68,0L1,0","M-1,0.2L-0.8,-0.2M-0.64,0.2L-0.44,-0.2M-0.28,0.2L-0.08,-0.2M0.08,0.2L0.28,-0.2M0.44,0.2L0.64,-0.2M0.8,0.2L1,-0.2","M-1,-0.2L-0.8,0.2M-0.64,-0.2L-0.44,0.2M-0.28,-0.2L-0.08,0.2M0.08,-0.2L0.28,0.2M0.44,-0.2L0.64,0.2M0.8,-0.2L1,0.2"]},
"legend":{"orient":"none","legendX":20,"legendY":14,"title":null,"labelFontSize":18,"labelColor":"#333","labelFont":"Liberation Sans","symbolSize":2704,"symbolStrokeWidth":1.4,"symbolStrokeColor":"#333","symbolFillColor":"transparent","symbolOpacity":1,"labelOffset":7,"rowPadding":3,"clipHeight":18,"padding":0}}}}
]
}
